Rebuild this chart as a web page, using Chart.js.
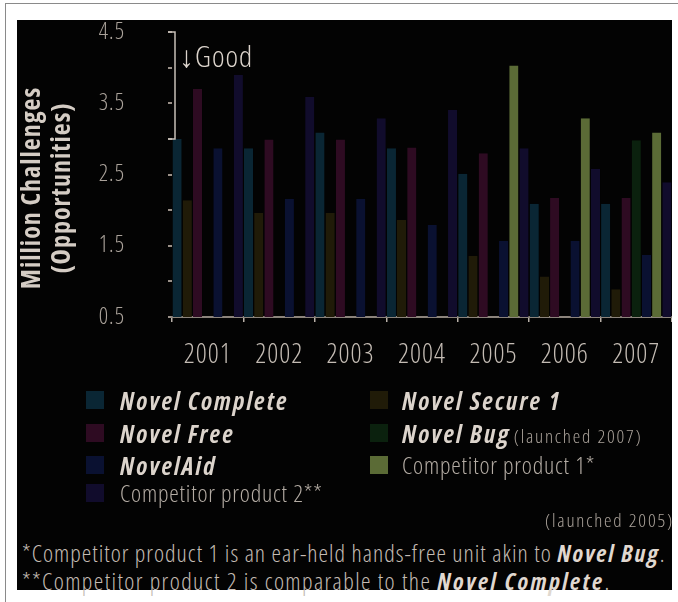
<!DOCTYPE html>
<html><head><meta charset="utf-8">
<script src="https://cdn.jsdelivr.net/npm/chart.js@4"></script>
<style>
html,body{margin:0;padding:0;}
body{width:678px;height:602px;background:#fff;position:relative;overflow:hidden;font-family:"Open Sans",sans-serif;font-stretch:75%;}
#frame{position:absolute;left:5px;top:3px;width:680px;height:610px;border-left:1px solid #8a8a8a;border-top:1px solid #8a8a8a;}
#panel{position:absolute;left:17px;top:20px;width:655px;height:570px;background:#030303;}
#wrap{position:absolute;left:17px;top:20px;width:655px;height:370px;}
.it{position:absolute;white-space:nowrap;line-height:1;}
.sw{position:absolute;width:18px;height:18px;}
.b{font-weight:700;font-style:italic;color:#dcd4cc;font-size:25px;letter-spacing:2.1px;}
.r{color:#b4aca4;font-size:24px;font-weight:300;letter-spacing:0.8px;}
.s{color:#aaa29a;font-size:19px;font-weight:300;letter-spacing:1.8px;}
.fn{position:absolute;left:22px;white-space:nowrap;color:#c4bcb4;font-size:24px;line-height:1;font-weight:300;letter-spacing:1px;}
.fn b{font-style:italic;font-weight:700;color:#e0d8d0;letter-spacing:1.8px;}
.fn.l2{letter-spacing:1.4px;}
.fn.l2 b{letter-spacing:2.4px;}
</style>
</head><body>
<div id="frame"></div>
<div id="panel"></div>
<div id="wrap"><canvas id="c" width="655" height="370"></canvas></div>
<div id="legend"></div>
<div class="fn" style="top:541px">*Competitor product 1 is an ear-held hands-free unit akin to <b>Novel Bug</b>.</div>
<div class="fn l2" style="top:569px">**Competitor product 2 is comparable to the <b>Novel Complete</b>.</div>
<script>
const categories = ['2001','2002','2003','2004','2005','2006','2007'];
const yTickLabels = ['0.5','1.5','2.5','3.5','4.5'];
const seriesNames = ['Novel Complete','Novel Secure 1','Novel Free','Novel Bug','NovelAid','Competitor product 1','Competitor product 2'];
const novelComplete = [3.00, 2.87, 3.09, 2.87, 2.51, 2.09, 2.09];
const novelSecure1  = [2.14, 1.96, 1.96, 1.86, 1.36, 1.07, 0.89];
const novelFree     = [3.70, 2.99, 2.99, 2.88, 2.80, 2.17, 2.17];
const novelBug      = [null, null, null, null, null, null, 2.98];
const novelAid      = [2.87, 2.16, 2.16, 1.79, 1.57, 1.57, 1.37];
const competitor1   = [null, null, null, null, 4.03, 3.29, 3.09];
const competitor2   = [3.90, 3.59, 3.29, 3.41, 2.87, 2.58, 2.39];
const seriesValues = [novelComplete, novelSecure1, novelFree, novelBug, novelAid, competitor1, competitor2];
const fillColors = ['#0a2634','#201b08','#2e0b22','#0b210e','#0a1131','#5b6b36','#110c2c'];
const baseColors = ['#2c8fb4','#a89634','#a8357a','#3c8a3c','#3454a8','#a8b86a','#4a3c9c'];
const legendNotes = ['', '', '', '(launched 2007)', '', '', ''];

const FAM = '"Open Sans", sans-serif';

// HTML legend (two columns like the reference)
const legendPos = {
  'Novel Complete':[86,120,388,'b'],
  'Novel Free':[86,120,421,'b'],
  'NovelAid':[86,120,453,'b'],
  'Competitor product 2':[86,120,481,'r','**'],
  'Novel Secure 1':[370,402,388,'b'],
  'Novel Bug':[370,402,421,'b'],
  'Competitor product 1':[370,402,453,'r','*']
};
const lg = document.getElementById('legend');
seriesNames.forEach((n,i)=>{
  const p = legendPos[n];
  const sw = document.createElement('div');
  sw.className='sw'; sw.style.left=p[0]+'px'; sw.style.top=(p[2]+3)+'px'; sw.style.background=fillColors[i];
  lg.appendChild(sw);
  const t = document.createElement('div');
  t.className='it'; t.style.left=p[1]+'px'; t.style.top=p[2]+'px';
  t.innerHTML = '<span class="'+p[3]+'">'+n+(p[4]||'')+'</span>'+(legendNotes[i]?' <span class="s">'+legendNotes[i]+'</span>':'');
  lg.appendChild(t);
});
const l5 = document.createElement('div');
l5.className='it s'; l5.style.right='4px'; l5.style.top='511px'; l5.textContent='(launched 2005)';
lg.appendChild(l5);

const spacing = {
  id:'spacing',
  beforeDraw(chart){ try { chart.ctx.letterSpacing = '1px'; } catch(e){} }
};

const annot = {
  id:'annot',
  afterDraw(chart){
    const ctx = chart.ctx, y = chart.scales.y, a = chart.chartArea;
    const y1 = y.getPixelForValue(4.5), y2 = y.getPixelForValue(3.0);
    const x = a.left + 3;
    ctx.save();
    ctx.strokeStyle = '#c8c0b8'; ctx.lineWidth = 1.5;
    ctx.beginPath();
    ctx.moveTo(a.left - 4, y1); ctx.lineTo(x, y1); ctx.lineTo(x, y2); ctx.lineTo(a.left - 4, y2);
    ctx.stroke();
    ctx.fillStyle = '#dcd4cc';
    ctx.font = '300 condensed 30px ' + FAM;
    ctx.textBaseline = 'middle';
    ctx.fillText('\u2193Good', a.left + 7, y.getPixelForValue(4.13));
    ctx.restore();
  }
};

new Chart(document.getElementById('c'), {
  type:'bar',
  data:{
    labels: categories,
    datasets: seriesNames.map((n,i)=>({
      label:n, data:seriesValues[i], backgroundColor:fillColors[i],
      borderColor:baseColors[i], borderWidth:{top:0,left:0,right:0,bottom:2}, borderSkipped:false,
      categoryPercentage:1.0, barPercentage:0.9
    }))
  },
  options:{
    responsive:false, animation:false,
    layout:{padding:{top:12,right:0,left:0,bottom:0}},
    plugins:{legend:{display:false}, tooltip:{enabled:false}},
    scales:{
      x:{
        grid:{display:true, drawOnChartArea:false, tickLength:5, color:'#b8b0a8', lineWidth:1.5},
        border:{display:true, color:'#8c847c', width:2},
        ticks:{color:'#c4bcb4', padding:17, font:{family:FAM, size:27, weight:'300 condensed'}},
        afterFit(s){ s.height = 73; s.paddingLeft = 0; s.paddingRight = 0; }
      },
      y:{
        min:0.5, max:4.5,
        grid:{display:true, drawOnChartArea:false, tickLength:4, color:'#9a9088', lineWidth:2},
        border:{display:false},
        ticks:{stepSize:0.5, color:'#aaa29a', padding:43,
          font:{family:FAM, size:23, lineHeight:1, weight:'300 condensed'},
          callback(v){ const s = Number(v).toFixed(1); return yTickLabels.includes(s) ? s : ''; }},
        title:{display:true, text:['Million Challenges\u2003','(Opportunities)\u2003'], color:'#d4ccc4',
          padding:{top:0,bottom:0},
          font:{family:FAM, size:26, weight:'bold condensed', lineHeight:1.18}},
        afterFit(s){ s.width = 155; s.paddingTop = 12; s.paddingBottom = 0; }
      }
    }
  },
  plugins:[spacing, annot]
});
</script>
</body></html>
